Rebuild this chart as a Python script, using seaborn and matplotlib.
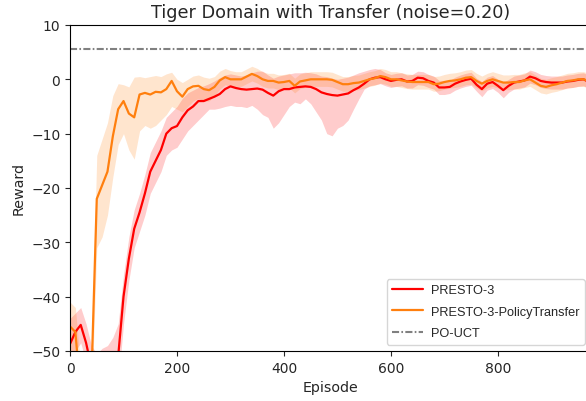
import matplotlib
matplotlib.use("Agg")
import matplotlib.pyplot as plt
import numpy as np
import pandas as pd
import seaborn as sns

# episodes sampled every 10
episodes = list(range(0, 1001, 10))

presto_mean = [
    -48.7, -46.5, -45.2, -48.5, -53, -56, -57, -57, -56, -51,
    -40, -33, -27.5, -24.5, -21, -17, -15, -13, -10, -9,
    -8.6, -7, -5.7, -5, -4, -4, -3.6, -3.2, -2.7, -1.8,
    -1.3, -1.6, -1.8, -1.9, -1.8, -1.7, -1.9, -2.5, -3, -2.2,
    -1.8, -1.8, -1.5, -1.4, -1.3, -1.4, -1.8, -2.4, -2.7, -2.9,
    -3, -2.8, -2.6, -2, -1.5, -0.8, 0, 0.3, 0.4, 0,
    -0.3, -0.1, 0, -0.4, -0.3, 0.3, 0.2, -0.3, -0.6, -1.5,
    -1.5, -1.4, -0.8, -0.4, -0.1, 0.1, -1.0, -1.8, -0.8, -0.5,
    -1.2, -2.0, -1.2, -0.6, -0.4, -0.2, 0.5, 0.2, -0.3, -0.5,
    -0.6, -0.6, -0.6, -0.4, -0.3, -0.1, 0, -0.5, -0.3, -0.6, -0.4]
presto_lo = [
    -52, -50, -48.5, -52, -57, -60, -61, -62, -60, -56,
    -45, -37, -31, -28, -25, -21, -19, -17, -14, -13,
    -12.5, -11, -9.5, -8.5, -7.5, -6.5, -5.5, -5.5, -5.3, -5,
    -4.8, -5, -5, -5.2, -4.8, -5.5, -6.5, -7, -9, -8,
    -6.5, -5, -4.2, -4.5, -3.6, -4.5, -6, -7.5, -10, -10.4,
    -9, -8.5, -7.5, -5.5, -3.6, -1.8, -1.2, -1.0, -0.8, -1.2,
    -1.5, -1.3, -1.2, -1.6, -1.6, -1.0, -1.1, -1.5, -1.8, -2.8,
    -2.8, -2.6, -2.0, -1.6, -1.3, -1.1, -2.2, -3.2, -2.0, -1.7,
    -2.4, -3.4, -2.4, -1.8, -1.6, -1.4, -0.7, -1.0, -1.5, -1.7,
    -1.8, -1.8, -1.8, -1.6, -1.5, -1.3, -1.2, -1.7, -1.5, -1.8, -1.6]
presto_hi = [
    -44, -43, -42, -45, -49, -50.5, -49.5, -49, -47.5, -45,
    -36, -29, -24, -21, -17.5, -13.5, -11.5, -9.5, -7, -6,
    -5, -3.5, -2.5, -2, -1.5, -1.2, -0.8, -0.3, 0.3, 0.8,
    1, 0.8, 0.6, 0.8, 1.2, 1.5, 1.5, 0.8, 0.2, 0.6,
    0.8, 1, 1.2, 1.2, 1.3, 1.2, 1, 0.6, 0.5, 0.2,
    0, 0.2, 0.4, 0.8, 1.2, 1.5, 1.8, 2, 1.8, 1.2,
    0.9, 1.1, 1.2, 0.8, 0.9, 1.5, 1.4, 0.9, 0.6, -0.2,
    -0.2, -0.2, 0.4, 0.8, 1.1, 1.3, 0.2, -0.4, 0.4, 0.7,
    0.0, -0.6, 0.0, 0.6, 0.8, 1.0, 1.7, 1.4, 0.9, 0.7,
    0.6, 0.6, 0.6, 0.8, 0.9, 1.1, 1.2, 0.7, 0.9, 0.6, 0.8]

transfer_mean = [
    -45.5, -46.5, -58, -60, -55, -22, -19.5, -17, -10.5, -5.5,
    -4, -6.3, -7, -2.8, -2.5, -2.8, -2.3, -2.4, -1.8, -0.3,
    -2.2, -3.2, -1.8, -1.3, -1.2, -1.8, -2, -1.4, -0.2, 0.4,
    0, 0, 0, 0.5, 1, 0.6, 0, -0.3, -0.3, -0.6,
    -0.5, -0.3, -1.2, -0.4, -0.2, 0, 0, 0, 0, -0.1,
    -0.5, -0.9, -0.9, -0.7, -0.6, -0.3, 0, 0.2, 0.6, 0.4,
    0, 0, -0.2, -0.4, -0.5, -0.5, -0.5, -0.5, -0.9, -0.8,
    -0.5, -0.3, -0.2, 0, 0.3, 0.4, -0.3, -0.8, -0.3, 0,
    -0.3, -0.6, -0.6, -0.5, -0.5, -0.2, 0, -0.6, -1.2, -1.4,
    -1.1, -0.9, -0.6, -0.3, -0.2, 0, 0, -0.3, -0.2, -0.4, -0.3]
transfer_lo = [
    -50, -51.5, -62, -63, -60, -31, -29, -25, -18, -12,
    -10, -13, -14.7, -9.5, -8.5, -9, -8.5, -7.5, -6.5, -5,
    -5.5, -6, -5, -4, -3.5, -4, -4, -3, -1.8, -1,
    -1.3, -1.3, -1.3, -0.8, -0.3, -0.7, -1.3, -1.6, -1.6, -1.9,
    -1.8, -1.6, -2.5, -1.7, -1.5, -1.3, -1.3, -1.3, -1.3, -1.4,
    -1.8, -2.2, -2.2, -2.0, -1.9, -1.6, -1.3, -1.1, -0.7, -0.9,
    -1.3, -1.3, -1.5, -1.7, -1.8, -1.8, -1.8, -1.8, -2.2, -2.1,
    -1.8, -1.6, -1.5, -1.3, -1.0, -0.9, -1.6, -2.1, -1.6, -1.3,
    -1.6, -1.9, -1.9, -1.8, -1.8, -1.5, -1.3, -1.9, -2.5, -2.7,
    -2.4, -2.2, -1.9, -1.6, -1.5, -1.3, -1.3, -1.6, -1.5, -1.7, -1.6]
transfer_hi = [
    -41, -42, -53, -55, -50, -14, -11, -8, -3, -0.8,
    -1, -1.4, 0.4, 0.5, 0.3, 0.5, 0.7, 0.5, 1, 1.3,
    0, -0.6, 0, 0.6, 0.8, 0.4, 0.2, 0.5, 1.5, 2,
    1.6, 1.4, 1.4, 1.9, 2.4, 2.0, 1.4, 1.1, 1.1, 0.8,
    0.9, 1.1, 0.2, 1.0, 1.2, 1.4, 1.4, 1.4, 1.4, 1.3,
    0.9, 0.5, 0.5, 0.7, 0.8, 1.1, 1.4, 1.6, 2.0, 1.8,
    1.4, 1.4, 1.2, 1.0, 0.9, 0.9, 0.9, 0.9, 0.5, 0.6,
    0.9, 1.1, 1.2, 1.4, 1.7, 1.8, 1.1, 0.6, 1.1, 1.4,
    1.1, 0.8, 0.8, 0.9, 0.9, 1.2, 1.4, 0.8, 0.2, 0.0,
    0.3, 0.5, 0.8, 1.1, 1.2, 1.4, 1.4, 1.1, 1.2, 1.0, 1.1]

pouct_reward = 5.6

series = [
    ("PRESTO-3", presto_mean, presto_lo, presto_hi, "#ff0000"),
    ("PRESTO-3-PolicyTransfer", transfer_mean, transfer_lo, transfer_hi, "#ff7f0e"),
]

sns.set_style("ticks")
plt.rcParams["font.family"] = ["DejaVu Sans"]

fig = plt.figure(figsize=(5.86, 4.02), dpi=100)
# right edge of the axes sits just past the figure edge, like the cropped reference
ax = fig.add_axes([0.1195, 0.1244, 0.889, 0.811])

for name, mean, lo, hi, color in series:
    df = pd.DataFrame({"Episode": episodes, "Reward": mean})
    sns.lineplot(data=df, x="Episode", y="Reward", ax=ax, color=color,
                 linewidth=1.6, label=name)
    ax.fill_between(episodes, lo, hi, color=color, alpha=0.2, linewidth=0)

ax.axhline(pouct_reward, color="gray", linestyle=(0, (3.4, 1.1, 0.8, 1.1)),
           linewidth=1.5, label="PO-UCT")

ax.set_xlim(0, 974)
ax.set_ylim(-50, 10)
ax.set_yticks(np.arange(-50, 11, 10))
ax.set_xticks([0, 200, 400, 600, 800])
ax.tick_params(labelsize=10)
ax.set_xlabel("Episode", fontsize=10.3)
ax.set_ylabel("Reward", fontsize=10.3)
ax.set_title("Tiger Domain with Transfer (noise=0.20)", fontsize=12.7)
for s in ax.spines.values():
    s.set_color("black")
ax.legend(loc="lower right", prop={"family": "Liberation Sans", "size": 9.2},
          handlelength=2.4, handletextpad=0.62, labelspacing=0.74,
          borderpad=0.42, frameon=True)

fig.savefig("out.png", dpi=100)
